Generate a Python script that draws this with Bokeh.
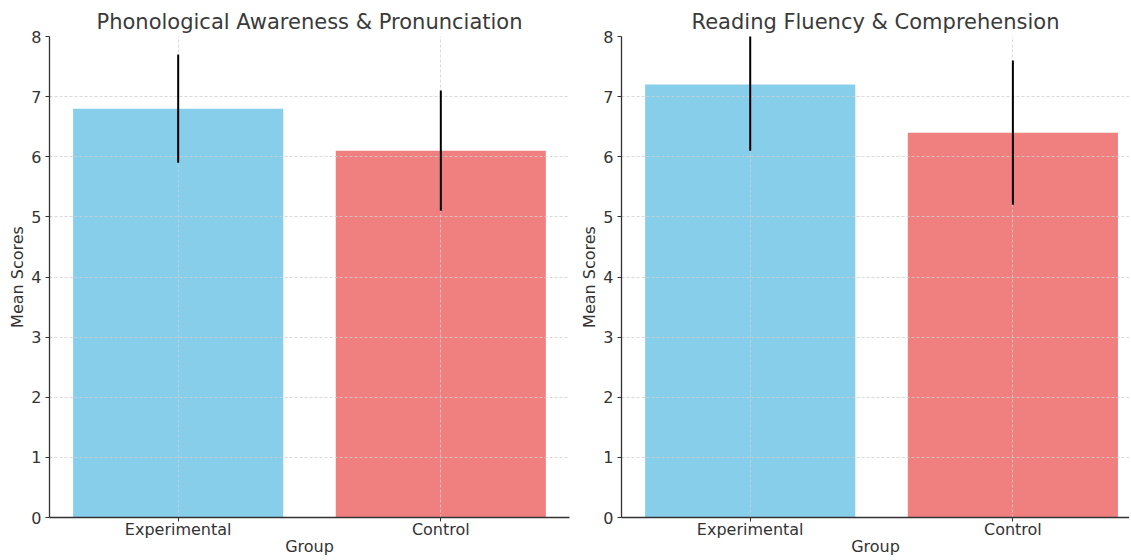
from bokeh.plotting import figure
from bokeh.layouts import row
from bokeh.models import Range1d, FixedTicker
from bokeh.embed import file_html
from bokeh.resources import INLINE

groups = ["Experimental", "Control"]
colors = ["#87CEEB", "#F08080"]

titles = ["Phonological Awareness & Pronunciation", "Reading Fluency & Comprehension"]
means_phon = [6.8, 6.1]
sd_phon = [0.9, 1.0]
means_read = [7.2, 6.4]
sd_read = [1.1, 1.2]

FONT = "DejaVu Sans"
TXT = "#333333"


def make(title, means, sds, width, xend, border_left, border_right):
    xs = list(range(len(groups)))
    p = figure(width=width, height=559, output_backend="svg", toolbar_location=None,
               x_range=Range1d(-0.49, xend), y_range=Range1d(0, 8),
               min_border_left=border_left, min_border_right=border_right,
               min_border_top=36, min_border_bottom=42)
    p.title.text = title
    p.title.align = "center"
    p.title.text_font = FONT
    p.title.text_font_size = "21px"
    p.title.text_font_style = "normal"
    p.title.text_color = "#3a3a3a"
    p.title.offset = 0
    p.title.standoff = 6
    p.outline_line_color = None

    bars = p.vbar(x=xs, top=means, width=0.8, bottom=0, fill_color=colors, line_color=None)
    bars.level = "underlay"
    lows = [m - s for m, s in zip(means, sds)]
    highs = [m + s for m, s in zip(means, sds)]
    p.segment(x0=xs, y0=lows, x1=xs, y1=highs, line_color="black", line_width=2)

    for g in (p.xgrid, p.ygrid):
        g.grid_line_color = "#cfcfcf"
        g.grid_line_dash = "3 2"
        g.grid_line_width = 0.8
        g.level = "underlay"

    p.xaxis.ticker = FixedTicker(ticks=xs)
    p.xaxis.major_label_overrides = {i: g for i, g in enumerate(groups)}
    p.yaxis.ticker = FixedTicker(ticks=list(range(0, 9)))
    p.xaxis.axis_label = "Group"
    p.yaxis.axis_label = "Mean Scores"
    for ax in (p.xaxis, p.yaxis):
        ax.axis_line_color = "#333333"
        ax.axis_line_width = 1.3
        ax.major_tick_line_color = "#333333"
        ax.major_tick_out = 4
        ax.major_tick_in = 0
        ax.minor_tick_line_color = None
        ax.major_label_text_font = FONT
        ax.major_label_text_font_size = "16px"
        ax.major_label_text_color = TXT
        ax.major_label_text_line_height = 1.0
        ax.axis_label_text_font = FONT
        ax.axis_label_text_font_size = "16px"
        ax.axis_label_text_font_style = "normal"
        ax.axis_label_text_color = TXT
        ax.axis_label_text_line_height = 1.0
    p.xaxis.major_label_standoff = -2
    p.xaxis.axis_label_standoff = -5
    p.yaxis.major_label_standoff = 4
    p.yaxis.axis_label_standoff = 1
    return p


p1 = make(titles[0], means_phon, sd_phon, 572, 1.49, 49, 3)
p2 = make(titles[1], means_read, sd_read, 557, 1.444, 49, 0)
layout = row(p1, p2)

open("out.html", "w").write(file_html(layout, INLINE))
